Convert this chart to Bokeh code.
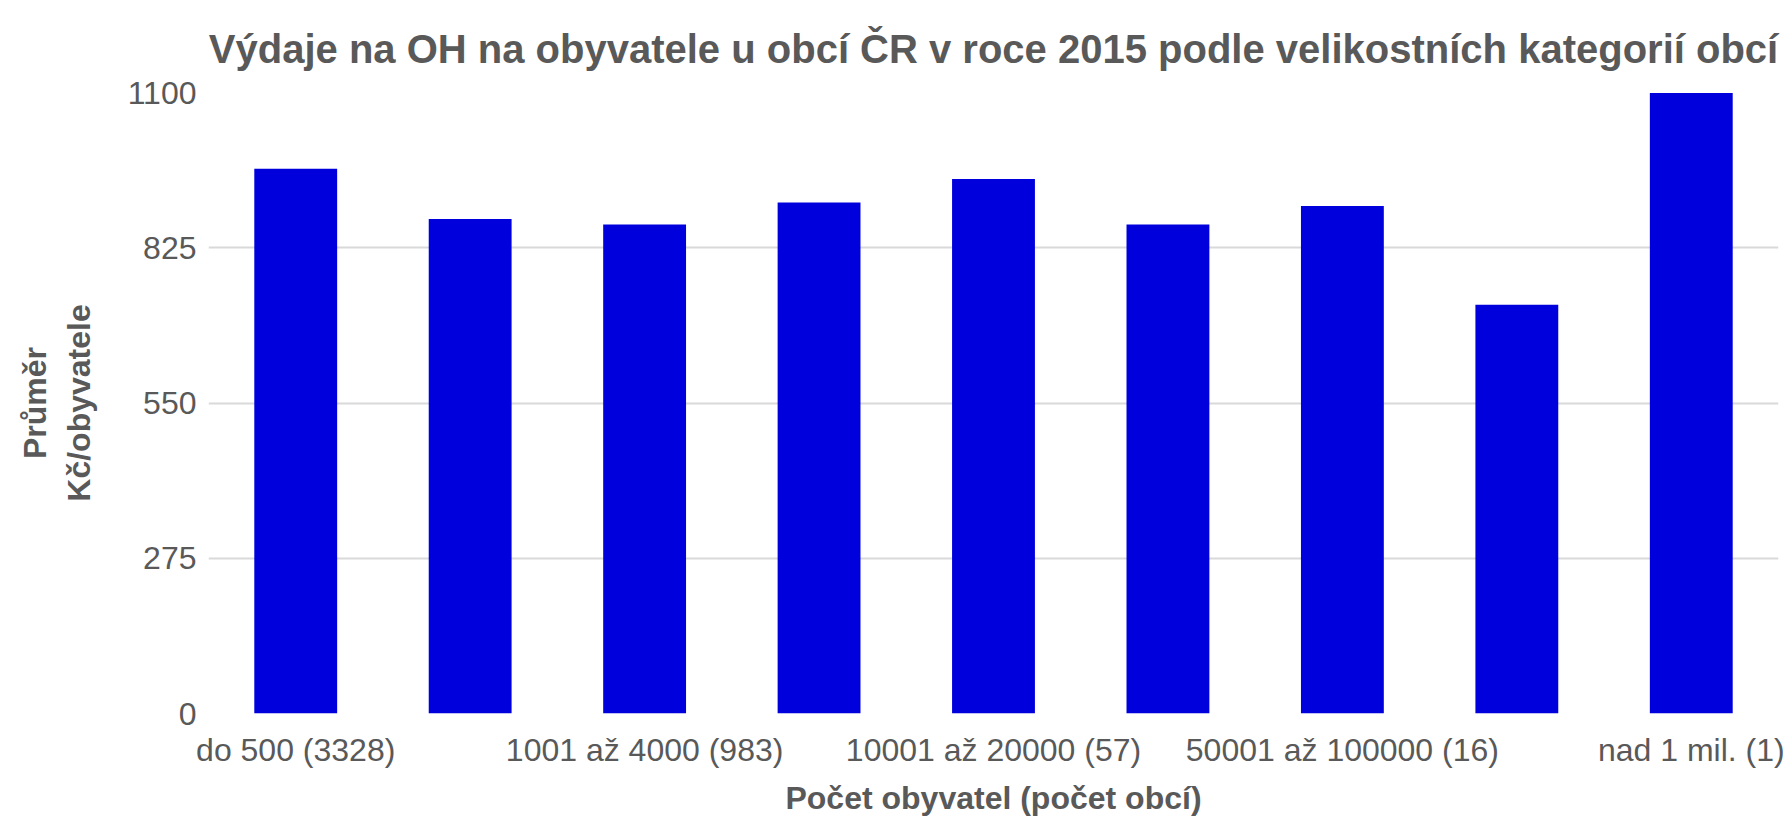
from bokeh.plotting import figure
from bokeh.models import Range1d, FixedTicker, ColumnDataSource
from bokeh.embed import file_html
from bokeh.resources import INLINE

# data
positions = [0, 1, 2, 3, 4, 5, 6, 7, 8]
values = [965, 876, 866, 905, 947, 866, 899, 724, 1099]
tick_positions = [0, 2, 4, 6, 8]
tick_labels = ["do 500 (3328)", "1001 až 4000 (983)", "10001 až 20000 (57)",
               "50001 až 100000 (16)", "nad 1 mil. (1)"]
y_ticks = [0, 275, 550, 825, 1100]

title = "Výdaje na OH na obyvatele u obcí ČR v roce 2015 podle velikostních kategorií obcí"
x_title = "Počet obyvatel (počet obcí)"
y_title = "Průměr\nKč/obyvatele"

TXT = "#595959"
FONT = "Liberation Sans"
FW, FH = 1570, 621

p = figure(frame_width=FW, frame_height=FH, output_backend="svg", toolbar_location=None,
           x_range=Range1d(-0.5, 8.5), y_range=Range1d(0, 1100),
           min_border_left=208, min_border_right=14, min_border_top=92,
           min_border_bottom=0, title=title)

src = ColumnDataSource(dict(x=positions, top=values))
p.vbar(x="x", top="top", width=0.475, bottom=0, source=src,
       fill_color="#0000DC", line_color=None)

p.title.text_font = FONT
p.title.text_font_size = "40px"
p.title.text_font_style = "bold"
p.title.text_color = TXT
p.title.align = "center"
p.title.vertical_align = "top"
p.title.text_line_height = 1.0
p.title.standoff = 40

p.outline_line_color = None
p.background_fill_color = "white"
p.border_fill_color = "white"

# y axis
p.yaxis.ticker = FixedTicker(ticks=y_ticks)
p.yaxis.axis_line_color = None
p.yaxis.major_tick_line_color = None
p.yaxis.minor_tick_line_color = None
p.yaxis.major_tick_out = 0
p.yaxis.major_label_standoff = 12
p.yaxis.major_label_text_font = FONT
p.yaxis.major_label_text_font_size = "32px"
p.yaxis.major_label_text_color = TXT
p.yaxis.axis_label = y_title
p.yaxis.axis_label_text_font = FONT
p.yaxis.axis_label_text_font_size = "32px"
p.yaxis.axis_label_text_font_style = "bold"
p.yaxis.axis_label_text_color = TXT
p.yaxis.axis_label_standoff = 28

# x axis
p.xaxis.ticker = FixedTicker(ticks=tick_positions)
p.xaxis.major_label_overrides = {pos: lab for pos, lab in zip(tick_positions, tick_labels)}
p.xaxis.axis_line_color = None
p.xaxis.major_tick_line_color = None
p.xaxis.minor_tick_line_color = None
p.xaxis.major_tick_out = 0
p.xaxis.major_label_standoff = 18
p.xaxis.major_label_text_font = FONT
p.xaxis.major_label_text_font_size = "32px"
p.xaxis.major_label_text_color = TXT
p.xaxis.axis_label = x_title
p.xaxis.axis_label_text_font = FONT
p.xaxis.axis_label_text_font_size = "32px"
p.xaxis.axis_label_text_font_style = "bold"
p.xaxis.axis_label_text_color = TXT
p.xaxis.axis_label_standoff = 9

p.xgrid.grid_line_color = None
p.ygrid.grid_line_color = "#d9d9d9"
p.ygrid.grid_line_width = 2

open("out.html", "w").write(file_html(p, INLINE))
